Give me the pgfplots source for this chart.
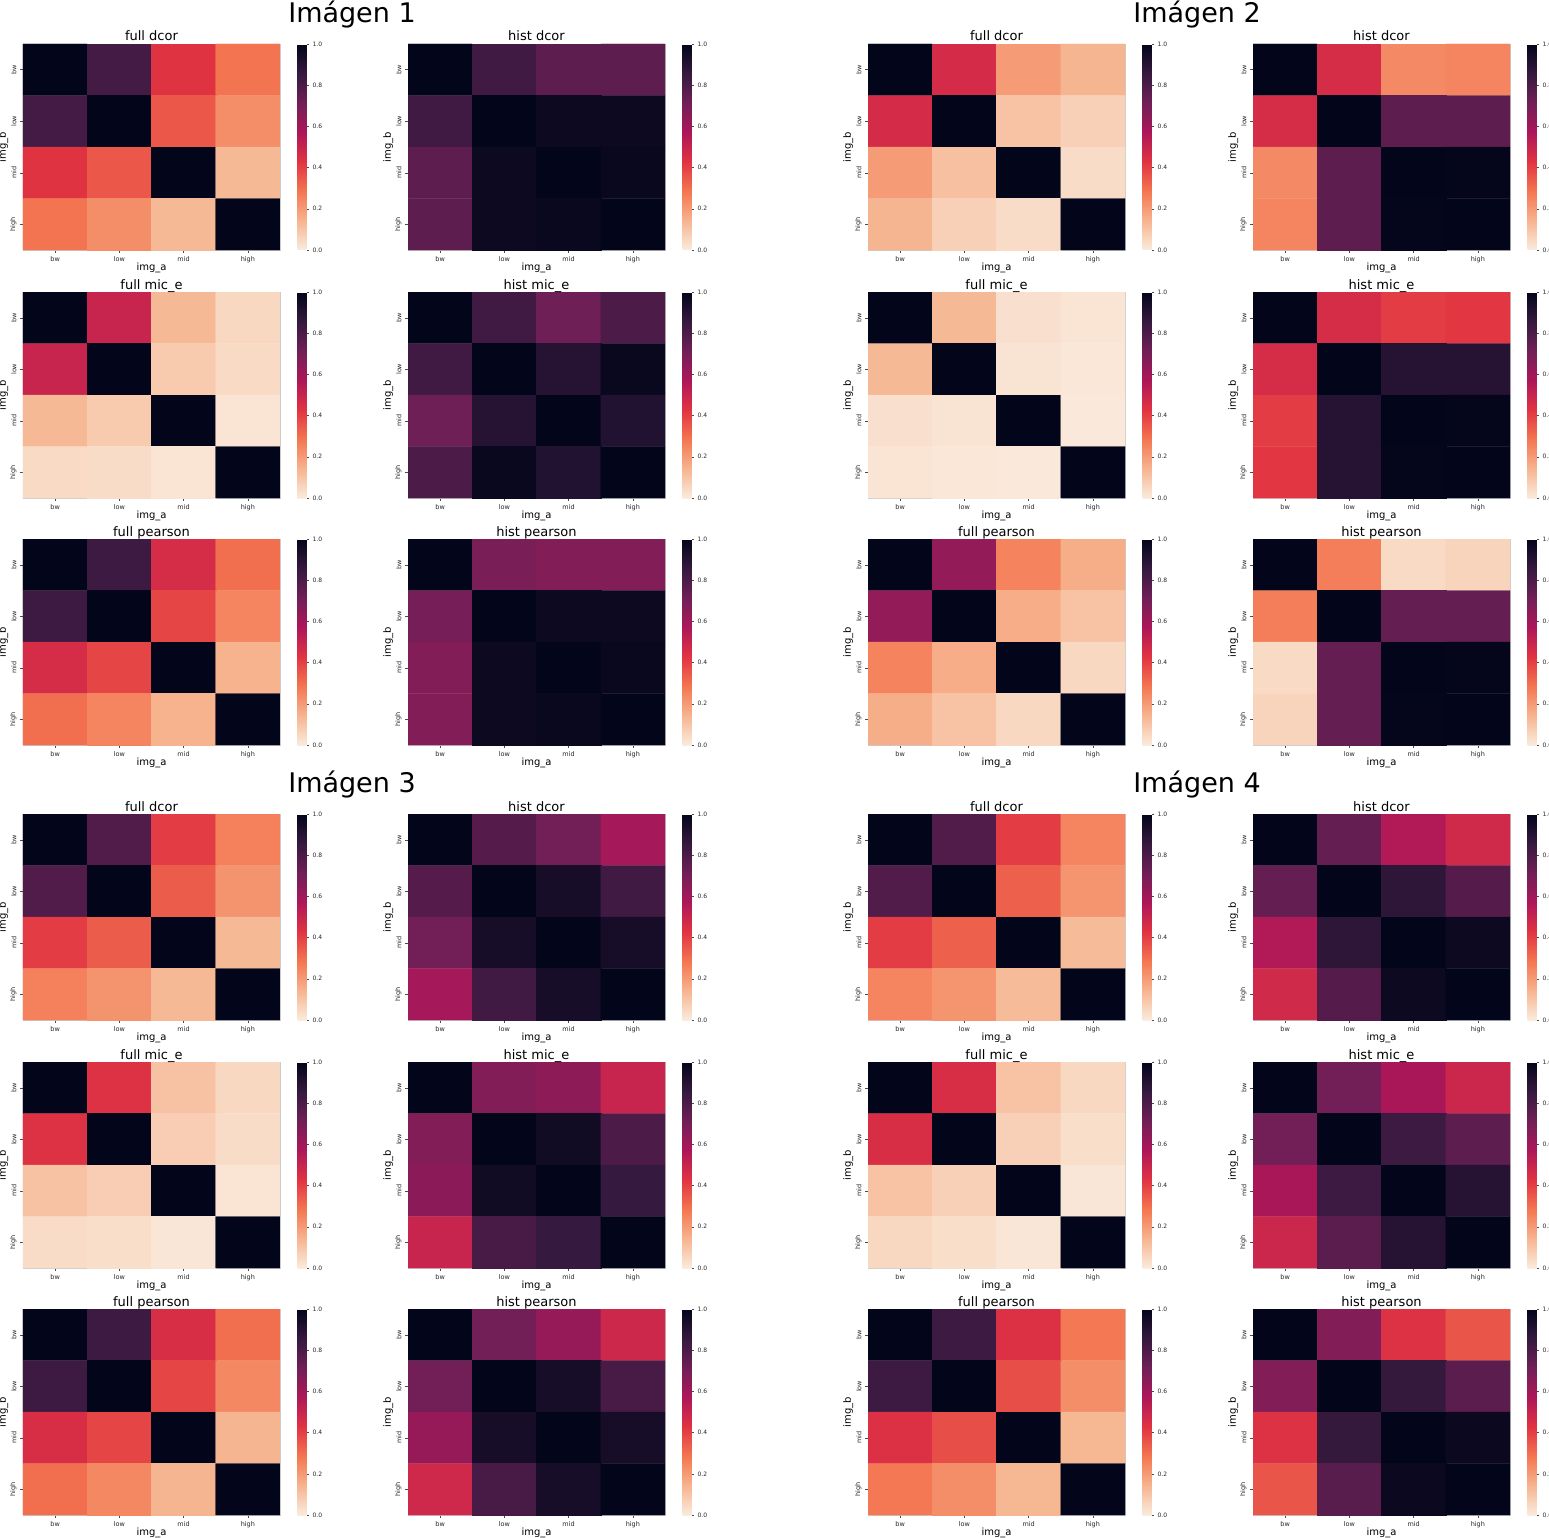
\documentclass[border=0pt]{standalone}
\usepackage{pgfplots}
\pgfplotsset{compat=1.18}
\usepackage{fontspec}
\setmainfont{DejaVu Sans}
\pgfplotsset{
  colormap={rocketr}{rgb255=(250,235,221) rgb255=(246,180,143) rgb255=(243,118,81) rgb255=(225,51,66) rgb255=(173,23,89) rgb255=(112,31,87) rgb255=(53,25,62) rgb255=(3,5,26)},
  hm/.style={
    width=257pt, height=206pt, scale only axis,
    anchor=north west,
    xmin=-0.5, xmax=3.5, ymin=-0.5, ymax=3.5, y dir=reverse,
    xtick={0,1,2,3}, ytick={0,1,2,3},
    xticklabels={bw,low,mid,high}, yticklabels={bw,low,mid,high},
    tick label style={font=\fontsize{6.5}{7}\selectfont, text=black!85},
    yticklabel style={rotate=90, anchor=south},
    tick align=outside, tick pos=left, major tick length=3pt,
    tick style={black!70, line width=0.5pt},
    axis line style={black!20, line width=0.5pt},
    xlabel={img\_a}, ylabel={img\_b},
    label style={font=\fontsize{10}{12}\selectfont},
    xlabel shift=-6.5pt, ylabel shift=-5pt,
    every axis title/.style={at={(0.5,1)}, anchor=base, yshift=3pt, font=\fontsize{13}{15}\selectfont},
    colormap name=rocketr, point meta min=0, point meta max=1,
    colorbar,
    colorbar style={
      at={(parent axis.north east)}, anchor=north west, xshift=9pt,
      width=9pt,
      ytick={0,0.2,0.4,0.6,0.8,1},
      ytick pos=right, yticklabel pos=right, tick align=outside,
      yticklabel style={font=\fontsize{6}{7}\selectfont, text=black!85,
        /pgf/number format/.cd, fixed, fixed zerofill, precision=1, assume math mode=true},
      major tick length=2.5pt, tick style={black!70, line width=0.4pt},
      axis line style={draw=none},
    },
  }
}
\newcommand\hm[4]{%
  \begin{axis}[hm, at={(#1pt,-#2pt)}, title={#3}]
    \addplot[matrix plot*, mesh/cols=4, point meta=explicit] coordinates {#4};
  \end{axis}}
\begin{document}
\begin{tikzpicture}
\path[use as bounding box] (0pt,0pt) rectangle (1549pt,-1538pt);
\node[font=\fontsize{27}{30}\selectfont] at (352pt,-15pt) {Imágen 1};
\node[font=\fontsize{27}{30}\selectfont] at (1197pt,-15pt) {Imágen 2};
\node[font=\fontsize{27}{30}\selectfont] at (352pt,-785pt) {Imágen 3};
\node[font=\fontsize{27}{30}\selectfont] at (1197pt,-785pt) {Imágen 4};

% ---------- Imagen 1 ----------
\hm{23}{44}{full dcor}{
(0,0)[1] (1,0)[.82] (2,0)[.43] (3,0)[.29]
(0,1)[.82] (1,1)[1] (2,1)[.35] (3,1)[.23]
(0,2)[.43] (1,2)[.35] (2,2)[1] (3,2)[.13]
(0,3)[.29] (1,3)[.23] (2,3)[.13] (3,3)[1]}
\hm{408}{44}{hist dcor}{
(0,0)[1] (1,0)[.83] (2,0)[.76] (3,0)[.76]
(0,1)[.83] (1,1)[1] (2,1)[.97] (3,1)[.97]
(0,2)[.76] (1,2)[.97] (2,2)[1] (3,2)[.98]
(0,3)[.76] (1,3)[.97] (2,3)[.98] (3,3)[1]}
\hm{23}{292}{full mic\_e}{
(0,0)[1] (1,0)[.50] (2,0)[.13] (3,0)[.05]
(0,1)[.50] (1,1)[1] (2,1)[.086] (3,1)[.045]
(0,2)[.13] (1,2)[.086] (2,2)[1] (3,2)[.015]
(0,3)[.045] (1,3)[.04] (2,3)[.015] (3,3)[1]}
\hm{408}{292}{hist mic\_e}{
(0,0)[1] (1,0)[.83] (2,0)[.72] (3,0)[.80]
(0,1)[.83] (1,1)[1] (2,1)[.90] (3,1)[.98]
(0,2)[.72] (1,2)[.90] (2,2)[1] (3,2)[.91]
(0,3)[.80] (1,3)[.98] (2,3)[.91] (3,3)[1]}
\hm{23}{539}{full pearson}{
(0,0)[1] (1,0)[.84] (2,0)[.46] (3,0)[.30]
(0,1)[.84] (1,1)[1] (2,1)[.39] (3,1)[.25]
(0,2)[.46] (1,2)[.39] (2,2)[1] (3,2)[.145]
(0,3)[.30] (1,3)[.25] (2,3)[.145] (3,3)[1]}
\hm{408}{539}{hist pearson}{
(0,0)[1] (1,0)[.69] (2,0)[.67] (3,0)[.67]
(0,1)[.70] (1,1)[1] (2,1)[.97] (3,1)[.97]
(0,2)[.67] (1,2)[.97] (2,2)[1] (3,2)[.98]
(0,3)[.67] (1,3)[.97] (2,3)[.98] (3,3)[1]}

% ---------- Imagen 2 ----------
\hm{868}{44}{full dcor}{
(0,0)[1] (1,0)[.465] (2,0)[.20] (3,0)[.14]
(0,1)[.465] (1,1)[1] (2,1)[.104] (3,1)[.07]
(0,2)[.20] (1,2)[.11] (2,2)[1] (3,2)[.04]
(0,3)[.14] (1,3)[.07] (2,3)[.04] (3,3)[1]}
\hm{1253}{44}{hist dcor}{
(0,0)[1] (1,0)[.46] (2,0)[.24] (3,0)[.25]
(0,1)[.46] (1,1)[1] (2,1)[.76] (3,1)[.76]
(0,2)[.24] (1,2)[.76] (2,2)[1] (3,2)[.995]
(0,3)[.25] (1,3)[.76] (2,3)[.995] (3,3)[1]}
\hm{868}{292}{full mic\_e}{
(0,0)[1] (1,0)[.13] (2,0)[.03] (3,0)[.015]
(0,1)[.13] (1,1)[1] (2,1)[.018] (3,1)[.01]
(0,2)[.03] (1,2)[.018] (2,2)[1] (3,2)[.005]
(0,3)[.015] (1,3)[.01] (2,3)[.005] (3,3)[1]}
\hm{1253}{292}{hist mic\_e}{
(0,0)[1] (1,0)[.46] (2,0)[.41] (3,0)[.42]
(0,1)[.46] (1,1)[1] (2,1)[.90] (3,1)[.90]
(0,2)[.41] (1,2)[.90] (2,2)[1] (3,2)[.995]
(0,3)[.42] (1,3)[.90] (2,3)[.995] (3,3)[1]}
\hm{868}{539}{full pearson}{
(0,0)[1] (1,0)[.634] (2,0)[.256] (3,0)[.157]
(0,1)[.634] (1,1)[1] (2,1)[.16] (3,1)[.104]
(0,2)[.256] (1,2)[.16] (2,2)[1] (3,2)[.05]
(0,3)[.157] (1,3)[.104] (2,3)[.05] (3,3)[1]}
\hm{1253}{539}{hist pearson}{
(0,0)[1] (1,0)[.268] (2,0)[.045] (3,0)[.06]
(0,1)[.268] (1,1)[1] (2,1)[.743] (3,1)[.743]
(0,2)[.045] (1,2)[.743] (2,2)[1] (3,2)[.995]
(0,3)[.06] (1,3)[.743] (2,3)[.995] (3,3)[1]}

% ---------- Imagen 3 ----------
\hm{23}{814}{full dcor}{
(0,0)[1] (1,0)[.79] (2,0)[.41] (3,0)[.26]
(0,1)[.79] (1,1)[1] (2,1)[.34] (3,1)[.217]
(0,2)[.41] (1,2)[.34] (2,2)[1] (3,2)[.13]
(0,3)[.26] (1,3)[.217] (2,3)[.13] (3,3)[1]}
\hm{408}{814}{hist dcor}{
(0,0)[1] (1,0)[.78] (2,0)[.71] (3,0)[.59]
(0,1)[.78] (1,1)[1] (2,1)[.94] (3,1)[.83]
(0,2)[.71] (1,2)[.94] (2,2)[1] (3,2)[.94]
(0,3)[.59] (1,3)[.83] (2,3)[.94] (3,3)[1]}
\hm{23}{1062}{full mic\_e}{
(0,0)[1] (1,0)[.44] (2,0)[.107] (3,0)[.05]
(0,1)[.44] (1,1)[1] (2,1)[.077] (3,1)[.04]
(0,2)[.107] (1,2)[.077] (2,2)[1] (3,2)[.015]
(0,3)[.04] (1,3)[.035] (2,3)[.012] (3,3)[1]}
\hm{408}{1062}{hist mic\_e}{
(0,0)[1] (1,0)[.67] (2,0)[.648] (3,0)[.50]
(0,1)[.67] (1,1)[1] (2,1)[.96] (3,1)[.80]
(0,2)[.65] (1,2)[.96] (2,2)[1] (3,2)[.857]
(0,3)[.50] (1,3)[.81] (2,3)[.855] (3,3)[1]}
\hm{23}{1309}{full pearson}{
(0,0)[1] (1,0)[.84] (2,0)[.455] (3,0)[.30]
(0,1)[.84] (1,1)[1] (2,1)[.39] (3,1)[.245]
(0,2)[.455] (1,2)[.39] (2,2)[1] (3,2)[.14]
(0,3)[.30] (1,3)[.245] (2,3)[.14] (3,3)[1]}
\hm{408}{1309}{hist pearson}{
(0,0)[1] (1,0)[.71] (2,0)[.625] (3,0)[.486]
(0,1)[.71] (1,1)[1] (2,1)[.94] (3,1)[.81]
(0,2)[.625] (1,2)[.94] (2,2)[1] (3,2)[.94]
(0,3)[.48] (1,3)[.81] (2,3)[.94] (3,3)[1]}

% ---------- Imagen 4 ----------
\hm{868}{814}{full dcor}{
(0,0)[1] (1,0)[.79] (2,0)[.41] (3,0)[.25]
(0,1)[.79] (1,1)[1] (2,1)[.33] (3,1)[.215]
(0,2)[.41] (1,2)[.33] (2,2)[1] (3,2)[.125]
(0,3)[.25] (1,3)[.215] (2,3)[.125] (3,3)[1]}
\hm{1253}{814}{hist dcor}{
(0,0)[1] (1,0)[.74] (2,0)[.56] (3,0)[.475]
(0,1)[.74] (1,1)[1] (2,1)[.88] (3,1)[.78]
(0,2)[.56] (1,2)[.88] (2,2)[1] (3,2)[.97]
(0,3)[.475] (1,3)[.78] (2,3)[.97] (3,3)[1]}
\hm{868}{1062}{full mic\_e}{
(0,0)[1] (1,0)[.455] (2,0)[.104] (3,0)[.05]
(0,1)[.455] (1,1)[1] (2,1)[.07] (3,1)[.035]
(0,2)[.104] (1,2)[.07] (2,2)[1] (3,2)[.012]
(0,3)[.05] (1,3)[.035] (2,3)[.012] (3,3)[1]}
\hm{1253}{1062}{hist mic\_e}{
(0,0)[1] (1,0)[.71] (2,0)[.58] (3,0)[.49]
(0,1)[.71] (1,1)[1] (2,1)[.84] (3,1)[.76]
(0,2)[.58] (1,2)[.84] (2,2)[1] (3,2)[.90]
(0,3)[.49] (1,3)[.765] (2,3)[.90] (3,3)[1]}
\hm{868}{1309}{full pearson}{
(0,0)[1] (1,0)[.84] (2,0)[.443] (3,0)[.28]
(0,1)[.84] (1,1)[1] (2,1)[.37] (3,1)[.23]
(0,2)[.443] (1,2)[.37] (2,2)[1] (3,2)[.135]
(0,3)[.28] (1,3)[.23] (2,3)[.135] (3,3)[1]}
\hm{1253}{1309}{hist pearson}{
(0,0)[1] (1,0)[.67] (2,0)[.44] (3,0)[.355]
(0,1)[.67] (1,1)[1] (2,1)[.86] (3,1)[.765]
(0,2)[.44] (1,2)[.86] (2,2)[1] (3,2)[.975]
(0,3)[.355] (1,3)[.77] (2,3)[.975] (3,3)[1]}
\end{tikzpicture}
\end{document}
